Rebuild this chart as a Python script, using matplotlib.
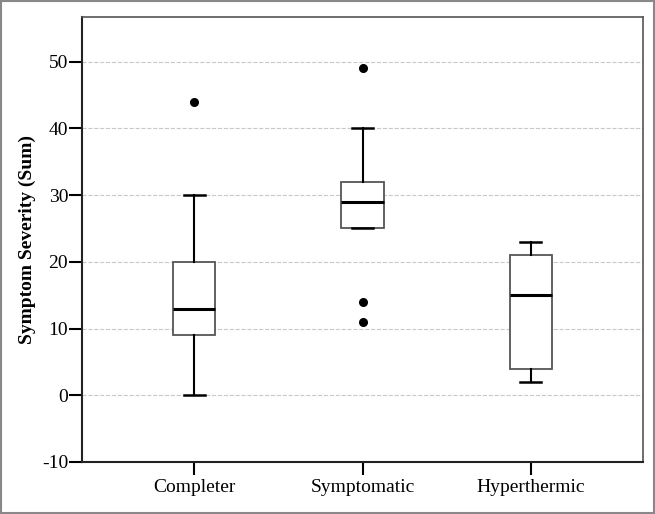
import matplotlib.pyplot as plt
from matplotlib.patches import Rectangle

groups = ['Completer', 'Symptomatic', 'Hyperthermic']
whisker_low = [0, 25, 2]
box_low = [9, 25, 4]
medians = [13, 29, 15]
box_high = [20, 32, 21]
whisker_high = [30, 40, 23]
outliers = [[44], [49, 14, 11], []]
y_ticks = [-10, 0, 10, 20, 30, 40, 50]


def main():
    plt.rcParams['font.family'] = ['Liberation Serif', 'DejaVu Serif']
    fig = plt.figure(figsize=(6.55, 5.14), dpi=100)
    ax = fig.add_axes([82 / 655, 1 - 462 / 514, 561 / 655, 445 / 514])

    stats = []
    for i, name in enumerate(groups):
        stats.append({'label': name, 'whislo': whisker_low[i],
                      'q1': box_low[i], 'med': medians[i],
                      'q3': box_high[i], 'whishi': whisker_high[i],
                      'fliers': outliers[i]})

    ax.bxp(stats, positions=[1, 2, 3], widths=0.25, capwidths=0.125,
           patch_artist=True,
           boxprops=dict(facecolor='white', edgecolor='#555555', lw=1.3),
           medianprops=dict(color='black', lw=2.2),
           whiskerprops=dict(color='black', lw=1.5),
           capprops=dict(color='black', lw=1.8),
           flierprops=dict(marker='o', markerfacecolor='black',
                           markeredgecolor='black', markersize=5.5))

    ax.set_xlim(0.333, 3.667)
    ax.set_ylim(-10, 56.7)
    ax.set_yticks(y_ticks)
    ax.set_yticklabels([str(v) for v in y_ticks])
    ax.yaxis.grid(True, linestyle='--', color='#c8c8c8', lw=0.8)
    ax.set_axisbelow(True)
    ax.tick_params(axis='y', length=9.5, width=1.5, labelsize=14, pad=0.5)
    ax.tick_params(axis='x', length=9.5, width=1.5, labelsize=14, pad=2.5)
    ax.set_ylabel('Symptom Severity (Sum)', fontsize=14, fontweight='bold',
                  labelpad=4)
    for side in ['left', 'bottom']:
        ax.spines[side].set_linewidth(1.5)
        ax.spines[side].set_color('#222222')
    for side in ['top', 'right']:
        ax.spines[side].set_linewidth(1.2)
        ax.spines[side].set_color('#555555')

    fig.patches.append(Rectangle((0.001, 0.001), 0.997, 0.997,
                                 transform=fig.transFigure, fill=False,
                                 edgecolor='#888888', lw=1.5))
    fig.savefig('out.png', dpi=100)


if __name__ == '__main__':
    main()
